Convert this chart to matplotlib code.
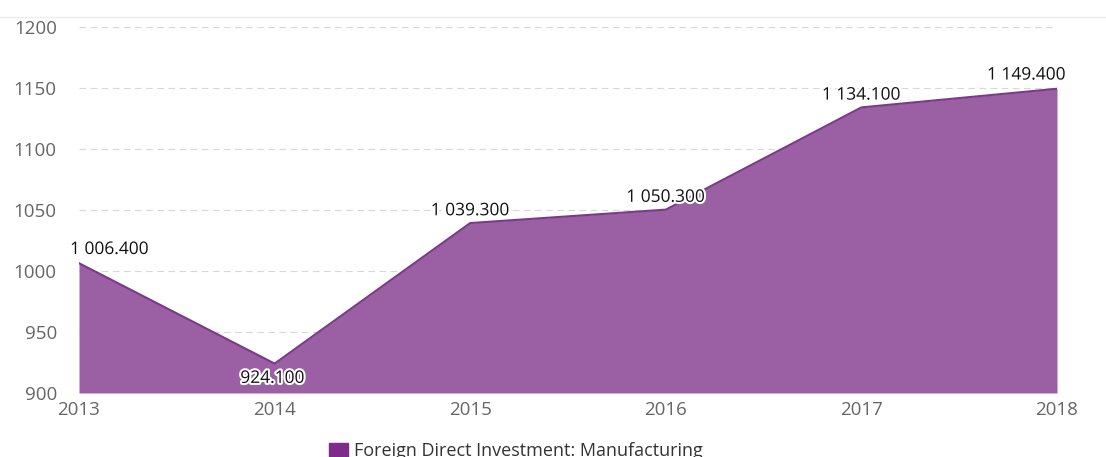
import matplotlib
matplotlib.use("Agg")
import matplotlib.pyplot as plt
import matplotlib.patheffects as pe
from matplotlib.patches import Rectangle

plt.rcParams["font.family"] = ["Open Sans", "DejaVu Sans"]

years = [2013, 2014, 2015, 2016, 2017, 2018]
values = [1006.4, 924.1, 1039.3, 1050.3, 1134.1, 1149.4]
y_ticks = [900, 950, 1000, 1050, 1100, 1150, 1200]
series_name = "Foreign Direct Investment: Manufacturing"

# label offsets in points (dx, dy) relative to each point
label_offsets = [(22, 9.5), (-1.5, -11), (0, 8.5), (0, 8.5), (0, 8.5), (-22, 9.5)]

FILL = "#9a60a3"
LINE = "#7a3a86"
LEGEND = "#7f2b8c"


def fmt(v: float) -> str:
    return f"{v:,.3f}".replace(",", " ")


fig = plt.figure(figsize=(11.06, 4.57), dpi=100)
ax = fig.add_axes([79 / 1106, 1 - 393 / 457, (1057 - 79) / 1106, (393 - 27) / 457])

ax.fill_between(years, values, 900, color=FILL, linewidth=0, zorder=2)
ax.plot(years, values, color=LINE, linewidth=1.5, zorder=3)

ax.set_xlim(2013, 2018)
ax.set_ylim(900, 1200)
ax.set_yticks(y_ticks)
ax.set_xticks(years)
ax.tick_params(axis="both", length=0, labelsize=13.5, colors="#666666")
ax.tick_params(axis="y", pad=16)
ax.tick_params(axis="x", pad=6)
ax.grid(axis="y", color="#d8d8d8", linestyle=(0, (6, 4)), linewidth=0.8, zorder=1)
ax.grid(axis="x", visible=False)
for s in ax.spines.values():
    s.set_visible(False)

for x, v, (dx, dy) in zip(years, values, label_offsets):
    ax.annotate(
        fmt(v), (x, v), xytext=(dx, dy), textcoords="offset points",
        ha="center", va="center", fontsize=12.5, color="#111111", zorder=5,
        path_effects=[pe.withStroke(linewidth=3, foreground="white")],
        annotation_clip=False,
    )

# faint top border line
fig.add_artist(plt.Line2D([0, 1], [1 - 17 / 457, 1 - 17 / 457], color="#eeeeee", linewidth=1))

# legend
fig.add_artist(Rectangle((329 / 1106, 1 - 458 / 457), 19 / 1106, 15 / 457,
                         transform=fig.transFigure, color=LEGEND))
fig.text(354 / 1106, 1 - 451 / 457, series_name, fontsize=13, color="#333333",
         ha="left", va="center")

fig.savefig("out.png", dpi=100)
